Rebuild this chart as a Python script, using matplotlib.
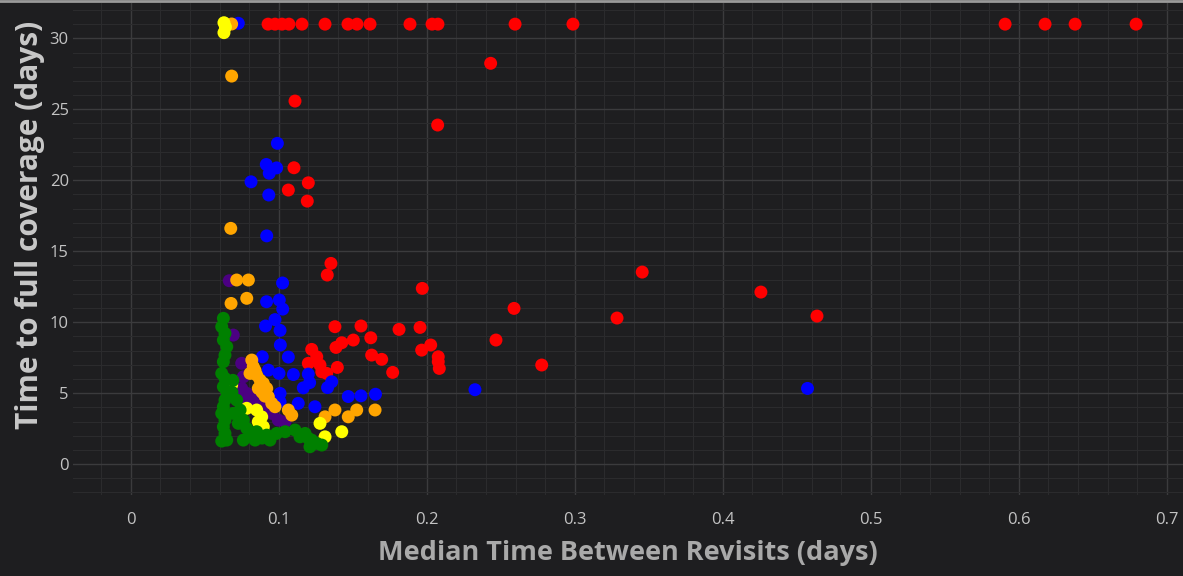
"""Scatter: temps de couverture complète vs temps médian entre revisites."""
import matplotlib
matplotlib.use("Agg")
import matplotlib.pyplot as plt
from matplotlib.lines import Line2D
from matplotlib.ticker import MultipleLocator

# --- données (x = jours entre revisites, y = jours) ---
red_x = [0.0928, 0.0975, 0.1022, 0.1069, 0.1157, 0.1313, 0.1468, 0.1529, 0.1617,
         0.1887, 0.2036, 0.2076, 0.2597, 0.2988, 0.5908, 0.6178, 0.6381, 0.6793,
         0.2432, 0.1110, 0.2074, 0.1103, 0.1200, 0.1065, 0.1193, 0.1353, 0.1328,
         0.3456, 0.1970, 0.4258, 0.2590, 0.3286, 0.4637, 0.1380, 0.1556, 0.1813,
         0.1955, 0.1622, 0.1504, 0.1426, 0.1387, 0.2027, 0.1966, 0.1223, 0.1257,
         0.1628, 0.1696, 0.2078, 0.2078, 0.2085, 0.1770, 0.1396, 0.1279, 0.1291,
         0.1200, 0.1324, 0.2468, 0.2777]
red_y = [31.0, 31.0, 31.0, 31.0, 31.0, 31.0, 31.0, 31.0, 31.0,
         31.0, 31.0, 31.0, 31.0, 31.0, 31.0, 31.0, 31.0, 31.0,
         28.24, 25.58, 23.89, 20.88, 19.82, 19.31, 18.53, 14.14, 13.32,
         13.53, 12.38, 12.12, 10.97, 10.29, 10.43, 9.68, 9.73, 9.49,
         9.63, 8.90, 8.74, 8.55, 8.22, 8.39, 8.03, 8.08, 7.56,
         7.68, 7.38, 7.56, 7.21, 6.74, 6.46, 6.81, 6.98, 6.50,
         7.10, 6.39, 8.74, 6.98]

blue_x = [0.0727, 0.0991, 0.0916, 0.0986, 0.0936, 0.0813, 0.0933, 0.0919, 0.1026,
          0.0918, 0.1004, 0.1027, 0.0911, 0.0975, 0.1009, 0.1011, 0.0889, 0.1065,
          0.0930, 0.1002, 0.1099, 0.1200, 0.1209, 0.1166, 0.1330, 0.1358, 0.1009,
          0.1009, 0.1132, 0.1245, 0.1470, 0.1556, 0.1654, 0.2326, 0.4573]
blue_y = [31.06, 22.60, 21.11, 20.87, 20.49, 19.89, 18.96, 16.08, 12.76,
          11.44, 11.56, 10.92, 9.73, 10.18, 9.42, 8.39, 7.56, 7.54,
          6.62, 6.39, 6.31, 6.34, 5.74, 5.37, 5.39, 5.80, 4.98,
          4.39, 4.28, 4.04, 4.76, 4.81, 4.92, 5.24, 5.33]

purple_x = [0.0666, 0.0693, 0.0750, 0.0761, 0.0750, 0.0784, 0.0828, 0.0862, 0.0907,
            0.0953, 0.0997, 0.1043, 0.0786]
purple_y = [12.92, 9.09, 7.10, 6.15, 5.33, 4.98, 4.63, 4.51, 4.04,
            3.57, 3.10, 2.98, 4.50]

orange_x = [0.0682, 0.0682, 0.0676, 0.0716, 0.0795, 0.0678, 0.0784, 0.0818, 0.0828,
            0.0806, 0.0851, 0.0874, 0.0896, 0.0919, 0.0862, 0.0930, 0.0953, 0.0975,
            0.1065, 0.1088, 0.1313, 0.1380, 0.1470, 0.1527, 0.1651, 0.0840, 0.0887,
            0.0907]
orange_y = [31.01, 27.34, 16.61, 12.97, 12.97, 11.32, 11.68, 7.33, 6.86,
            6.39, 6.27, 5.92, 5.69, 5.33, 5.33, 4.74, 4.28, 4.04,
            3.81, 3.45, 3.33, 3.81, 3.33, 3.81, 3.81, 6.60, 5.07,
            4.79]

yellow_x = [0.0630, 0.0640, 0.0630, 0.0682, 0.0784, 0.0851, 0.0885, 0.0862, 0.0896,
            0.0896, 0.1279, 0.1313, 0.1426]
yellow_y = [31.1, 30.8, 30.4, 5.57, 3.93, 3.81, 3.33, 2.98, 2.63,
            2.28, 2.87, 1.92, 2.28]

green_x = [0.0626, 0.0615, 0.0637, 0.0626, 0.0649, 0.0637, 0.0626, 0.0615, 0.0637,
           0.0626, 0.0649, 0.0637, 0.0626, 0.0615, 0.0637, 0.0626, 0.0637, 0.0649,
           0.0615, 0.0716, 0.0693, 0.0739, 0.0727, 0.0761, 0.0784, 0.0761, 0.0806,
           0.0840, 0.0851, 0.0684, 0.0690, 0.0919, 0.0986, 0.1043, 0.1110, 0.1144,
           0.1178, 0.1200, 0.1211, 0.1257, 0.1291, 0.1223, 0.0887, 0.0941]
green_y = [10.27, 9.68, 9.21, 8.74, 8.27, 7.68, 7.21, 6.39, 6.04,
           5.45, 5.10, 4.51, 4.04, 3.57, 3.10, 2.63, 2.16, 1.69,
           1.62, 4.51, 3.57, 3.81, 2.87, 3.10, 2.52, 1.69, 2.16,
           1.69, 2.28, 5.07, 5.90, 2.04, 2.16, 2.28, 2.40, 1.92,
           2.16, 1.81, 1.22, 1.46, 1.34, 1.69, 1.83, 1.69]

# ordre de tracé : du fond vers le premier plan
SERIES = [
    (red_x, red_y, "#ff0000"),
    (blue_x, blue_y, "#0000ff"),
    (purple_x, purple_y, "#4b0082"),
    (orange_x, orange_y, "#ffa500"),
    (yellow_x, yellow_y, "#ffff00"),
    (green_x, green_y, "#008000"),
]

BG = "#1e1e20"

fig = plt.figure(figsize=(11.83, 5.76), dpi=100, facecolor=BG)
ax = fig.add_axes([0.0617, 0.1406, 0.9383, 0.8542])
ax.set_facecolor(BG)

for xs, ys, c in SERIES:
    ax.scatter(xs, ys, s=87, color=c, edgecolors="none", zorder=3)

ax.set_xlim(-0.039, 0.711)
ax.set_ylim(-2.18, 32.49)
ax.xaxis.set_major_locator(MultipleLocator(0.1))
ax.xaxis.set_minor_locator(MultipleLocator(0.02))
ax.yaxis.set_major_locator(MultipleLocator(5))
ax.yaxis.set_minor_locator(MultipleLocator(1))
ax.set_xticks([0, 0.1, 0.2, 0.3, 0.4, 0.5, 0.6, 0.7])
ax.set_xticklabels(["0", "0.1", "0.2", "0.3", "0.4", "0.5", "0.6", "0.7"])

ax.grid(which="major", color="#3b3b3d", linewidth=1.0, zorder=0)
ax.grid(which="minor", color="#2b2b2d", linewidth=0.8, zorder=0)
ax.set_axisbelow(True)
for sp in ax.spines.values():
    sp.set_visible(False)

ax.tick_params(which="both", length=0, colors="#c4c4c4", labelsize=12)
ax.tick_params(axis="x", pad=12)
ax.tick_params(axis="y", pad=3)
for lab in ax.get_xticklabels() + ax.get_yticklabels():
    lab.set_fontfamily("Open Sans")

ax.set_xlabel("Median Time Between Revisits (days)", fontsize=19.5, fontweight="bold",
              color="#a9a9a9", family="Open Sans", labelpad=9)
ax.set_ylabel("Time to full coverage (days)", fontsize=21.5, fontweight="bold",
              color="#c8c8c8", family="Open Sans", labelpad=5)
ax.yaxis.set_label_coords(-0.025, 0.549)

# liseré clair en haut de la capture
fig.add_artist(Line2D([0, 1], [0.998, 0.998], transform=fig.transFigure,
                      color="#9a9a9a", linewidth=2))

plt.savefig("out.png", dpi=100, facecolor=BG)
